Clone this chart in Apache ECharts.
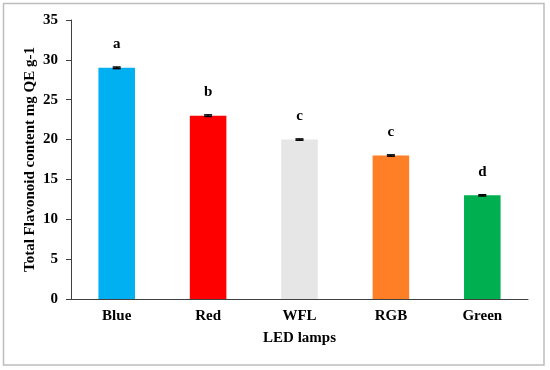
<!DOCTYPE html>
<html><head><meta charset="utf-8">
<script src="https://cdn.jsdelivr.net/npm/echarts@6/dist/echarts.min.js"></script>
<style>html,body{margin:0;padding:0;background:#fff}#c{width:550px;height:370px}</style>
</head><body><div id="c"></div>
<script>
const categories = ['Blue', 'Red', 'WFL', 'RGB', 'Green'];
const values = [29, 23, 20, 18, 13];
const errors = [0.1, 0.1, 0.08, 0.08, 0.08];
const letters = ['a', 'b', 'c', 'c', 'd'];
const colors = ['#00B0F0', '#FF0000', '#E6E6E6', '#FF7F27', '#00B050'];
const yTicks = [0, 5, 10, 15, 20, 25, 30, 35];

const font = 'Liberation Serif, Times New Roman, serif';
const chart = echarts.init(document.getElementById('c'));
chart.setOption({
  animation: false,
  graphic: [{
    type: 'rect', shape: {x: 3.5, y: 3.5, width: 540.5, height: 361.5},
    style: {fill: 'none', stroke: '#BDBDBD', lineWidth: 1.5}, z: -1
  }],
  grid: {left: 71, right: 22, top: 20, bottom: 71},
  xAxis: {
    type: 'category', data: categories,
    name: 'LED lamps', nameLocation: 'middle', nameGap: 32,
    nameTextStyle: {fontFamily: font, fontWeight: 'bold', fontSize: 15, color: '#000'},
    axisLine: {lineStyle: {color: '#404040', width: 1}},
    axisTick: {show: false},
    axisLabel: {fontFamily: font, fontWeight: 'bold', fontSize: 15, color: '#000', margin: 10}
  },
  yAxis: {
    type: 'value', min: yTicks[0], max: yTicks[yTicks.length - 1], interval: 5,
    name: 'Total Flavonoid content mg QE g-1', nameLocation: 'middle', nameGap: 33,
    nameMoveOverlap: false,
    nameTextStyle: {fontFamily: font, fontWeight: 'bold', fontSize: 15, color: '#000'},
    splitLine: {show: false},
    axisLine: {show: true, lineStyle: {color: '#404040', width: 1}},
    axisTick: {show: true, length: 5, inside: false, lineStyle: {color: '#404040'}},
    axisLabel: {fontFamily: font, fontWeight: 'bold', fontSize: 15, color: '#000', margin: 13}
  },
  series: [{
    type: 'bar', barWidth: '40%',
    data: values.map((v, i) => ({value: v, itemStyle: {color: colors[i]}})),
    label: {
      show: true, position: 'top', distance: 16,
      formatter: p => letters[p.dataIndex],
      fontFamily: font, fontWeight: 'bold', fontSize: 15, color: '#000'
    }
  }, {
    type: 'custom',
    data: values.map((v, i) => [i, v - errors[i], v + errors[i]]),
    renderItem: (params, api) => {
      const lo = api.coord([api.value(0), api.value(1)]);
      const hi = api.coord([api.value(0), api.value(2)]);
      const hw = 4;
      const st = {stroke: '#000', lineWidth: 1.5};
      return {type: 'group', children: [
        {type: 'line', shape: {x1: lo[0], y1: lo[1], x2: hi[0], y2: hi[1]}, style: st},
        {type: 'line', shape: {x1: lo[0] - hw, y1: lo[1], x2: lo[0] + hw, y2: lo[1]}, style: st},
        {type: 'line', shape: {x1: hi[0] - hw, y1: hi[1], x2: hi[0] + hw, y2: hi[1]}, style: st}
      ]};
    },
    z: 5
  }]
});
</script></body></html>
